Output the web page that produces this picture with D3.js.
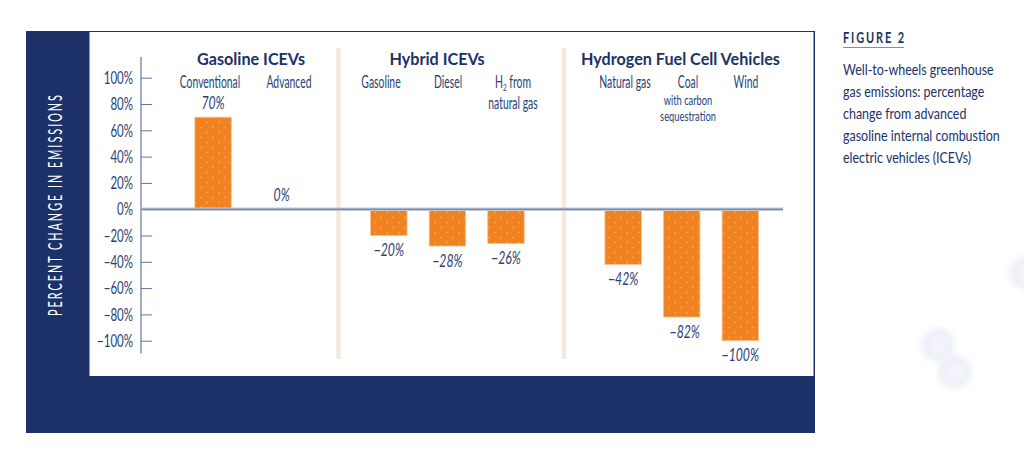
<!DOCTYPE html>
<html>
<head>
<meta charset="utf-8">
<script src="https://cdn.jsdelivr.net/npm/d3@7"></script>
<style>
  html, body { margin: 0; padding: 0; background: #fff; }
  svg { display: block; font-family: Lato, "Open Sans", sans-serif; }
</style>
</head>
<body>
<div id="chart"></div>
<script>
// categories, blank slots are where the group separators sit
var categories = ["Conventional", "Advanced", "_a", "Gasoline", "Diesel", "H2", "_b", "Natural gas", "Coal", "Wind"];
var barCategories = ["Conventional", "Advanced", "Gasoline", "Diesel", "H2", "Natural gas", "Coal", "Wind"];
var emissions = [70, 0, -20, -28, -26, -42, -82, -100];
var valueLabels = ["70%", "0%", "\u221220%", "\u221228%", "\u221226%", "\u221242%", "\u221282%", "\u2212100%"];
var yTicks = [100, 80, 60, 40, 20, 0, -20, -40, -60, -80, -100];
var yTickLabels = ["100%", "80%", "60%", "40%", "20%", "0%", "\u221220%", "\u221240%", "\u221260%", "\u221280%", "\u2212100%"];
var groupTitles = ["Gasoline ICEVs", "Hybrid ICEVs", "Hydrogen Fuel Cell Vehicles"];
var captionLines = ["Well-to-wheels greenhouse", "gas emissions: percentage", "change from advanced", "gasoline internal combustion", "electric vehicles (ICEVs)"];

var navy = "#1b3168", ink = "#2a3f73", axisCol = "#6474a0";
var width = 1024, height = 459;

var svg = d3.select("#chart").append("svg")
    .attr("width", width)
    .attr("height", height);

var defs = svg.append("defs");

var pattern = defs.append("pattern")
    .attr("id", "dots")
    .attr("patternUnits", "userSpaceOnUse")
    .attr("width", 12)
    .attr("height", 10);
pattern.append("rect").attr("width", 12).attr("height", 10).attr("fill", "#f08224");
pattern.append("circle").attr("cx", 3).attr("cy", 2.5).attr("r", 1.1).attr("fill", "#f9a827");
pattern.append("circle").attr("cx", 9).attr("cy", 7.5).attr("r", 1.1).attr("fill", "#f9a827");

var glow = defs.append("radialGradient").attr("id", "glow");
glow.append("stop").attr("offset", "0%").attr("stop-color", "#f5f6fb").attr("stop-opacity", 1);
glow.append("stop").attr("offset", "60%").attr("stop-color", "#eef0f8").attr("stop-opacity", 1);
glow.append("stop").attr("offset", "100%").attr("stop-color", "#eef0f8").attr("stop-opacity", 0);

// faint blurred blobs on the page background
svg.selectAll(".blob")
    .data([[938, 345, 21], [955, 372, 21], [1026, 273, 21]])
  .enter().append("circle")
    .attr("class", "blob")
    .attr("cx", function(d) { return d[0]; })
    .attr("cy", function(d) { return d[1]; })
    .attr("r", function(d) { return d[2]; })
    .attr("fill", "url(#glow)");

// panel
svg.append("rect").attr("x", 26).attr("y", 31).attr("width", 789).attr("height", 402).attr("fill", navy);
svg.append("rect").attr("x", 89.5).attr("y", 32).attr("width", 724).attr("height", 344).attr("fill", "#fff");

var x = d3.scaleBand()
    .domain(categories)
    .range([183.7, 769.7])
    .paddingInner(0.377)
    .paddingOuter(0.19);

var y = d3.scaleLinear()
    .domain([-100, 100])
    .range([340.7, 77.7]);

// squeezes text sideways around its own x, the page font is wider than the original
function squeeze(sel, k) {
  sel.attr("transform", function() {
    var px = +this.getAttribute("x") || 0;
    return "translate(" + px * (1 - k) + ",0)scale(" + k + ",1)";
  });
}

// separators
svg.selectAll(".sep")
    .data([338.5, 564])
  .enter().append("rect")
    .attr("class", "sep")
    .attr("x", function(d) { return d - 2.2; })
    .attr("y", 48)
    .attr("width", 4.4)
    .attr("height", 311)
    .attr("fill", "#f6eadf");

// axis
var axis = d3.axisLeft(y)
    .tickValues(yTicks)
    .tickSizeInner(-11)
    .tickSizeOuter(0)
    .tickPadding(8)
    .tickFormat(function(d, i) { return yTickLabels[i]; });

var axisG = svg.append("g")
    .attr("transform", "translate(141,0)")
    .call(axis);
axisG.select(".domain").remove();
axisG.append("line")
    .attr("y1", 57).attr("y2", 353.5)
    .attr("stroke", axisCol).attr("stroke-width", 1.2);
axisG.selectAll(".tick line").attr("stroke", axisCol);
axisG.selectAll(".tick text")
    .attr("fill", ink)
    .attr("font-size", 18)
    .attr("font-family", "Lato")
    .call(squeeze, 0.64);

// bars
svg.selectAll(".bar")
    .data(emissions)
  .enter().append("rect")
    .attr("class", "bar")
    .attr("x", function(d, i) { return x(barCategories[i]); })
    .attr("y", function(d) { return y(Math.max(d, 0)); })
    .attr("width", x.bandwidth())
    .attr("height", function(d) { return Math.abs(y(d) - y(0)); })
    .attr("fill", "url(#dots)")
    .attr("stroke", "#f9c48c")
    .attr("stroke-width", 0.8);

// zero line
svg.append("line")
    .attr("x1", 141).attr("x2", 783)
    .attr("y1", y(0)).attr("y2", y(0))
    .attr("stroke", "#c3c9d8").attr("stroke-width", 3.4);
svg.append("line")
    .attr("x1", 141).attr("x2", 783)
    .attr("y1", y(0)).attr("y2", y(0))
    .attr("stroke", "#5f7097").attr("stroke-width", 1);

// value labels, a few sit off the bar center in the original
var labelNudge = {Advanced: 10, Coal: 3};
svg.selectAll(".value")
    .data(emissions)
  .enter().append("text")
    .attr("class", "value")
    .attr("x", function(d, i) {
      var c = barCategories[i];
      return x(c) + x.bandwidth() / 2 + (labelNudge[c] || 0);
    })
    .attr("y", function(d) { return d >= 0 ? y(d) - 8 : y(d) + 20.5; })
    .attr("text-anchor", "middle")
    .attr("font-size", 17)
    .attr("font-style", "italic")
    .attr("fill", ink)
    .text(function(d, i) { return valueLabels[i]; })
    .call(squeeze, 0.72);

// group titles
svg.selectAll(".group")
    .data(groupTitles)
  .enter().append("text")
    .attr("class", "group")
    .attr("x", function(d, i) { return [251, 437, 680.5][i]; })
    .attr("y", 65)
    .attr("text-anchor", "middle")
    .attr("font-size", 16.5)
    .attr("font-weight", 700)
    .attr("fill", navy)
    .text(function(d) { return d; })
    .call(squeeze, 0.98);

// category labels, [text, center x, baseline, size, squeeze]
var catLabels = [
  ["Conventional", 210, 88, 16.5, 0.63], ["Advanced", 289, 88, 16.5, 0.63],
  ["Gasoline", 381, 88, 16.5, 0.63], ["Diesel", 448, 88, 16.5, 0.63],
  ["natural gas", 513, 109, 16.5, 0.63],
  ["Natural gas", 625, 88, 16.5, 0.63], ["Coal", 688, 88, 16.5, 0.63],
  ["with carbon", 688, 105, 14, 0.667], ["sequestration", 688, 121, 14, 0.667],
  ["Wind", 746, 88, 16.5, 0.63]
];
svg.selectAll(".cat")
    .data(catLabels)
  .enter().append("text")
    .attr("class", "cat")
    .attr("x", function(d) { return d[1]; })
    .attr("y", function(d) { return d[2]; })
    .attr("text-anchor", "middle")
    .attr("font-size", function(d) { return d[3]; })
    .attr("fill", ink)
    .text(function(d) { return d[0]; })
    .each(function(d) { d3.select(this).call(squeeze, d[4]); });

var h2 = svg.append("text")
    .attr("transform", "translate(513,88)scale(0.63,1)")
    .attr("text-anchor", "middle")
    .attr("font-size", 16.5)
    .attr("fill", ink)
    .style("white-space", "pre");
h2.append("tspan").text("H");
h2.append("tspan").attr("font-size", 10).attr("dy", 3).text("2");
h2.append("tspan").attr("dy", -3).text(" from");

// y title
svg.append("text")
    .attr("transform", "translate(62,204.5)rotate(-90)scale(0.57,1)")
    .attr("text-anchor", "middle")
    .attr("font-size", 19)
    .attr("letter-spacing", 3.5)
    .attr("fill", "#fff")
    .text("PERCENT CHANGE IN EMISSIONS");

// right caption
svg.append("text")
    .attr("x", 843).attr("y", 43)
    .attr("font-size", 15)
    .attr("font-weight", 700)
    .attr("letter-spacing", 2.6)
    .attr("fill", navy)
    .text("FIGURE 2")
    .call(squeeze, 0.73);
svg.append("line")
    .attr("x1", 843).attr("x2", 904)
    .attr("y1", 47.5).attr("y2", 47.5)
    .attr("stroke", "#7f8db3").attr("stroke-width", 1);

svg.selectAll(".caption")
    .data(captionLines)
  .enter().append("text")
    .attr("class", "caption")
    .attr("x", 843)
    .attr("y", function(d, i) { return 75 + i * 22; })
    .attr("font-size", 16)
    .attr("fill", navy)
    .text(function(d) { return d; })
    .call(squeeze, 0.78);
</script>
</body>
</html>
